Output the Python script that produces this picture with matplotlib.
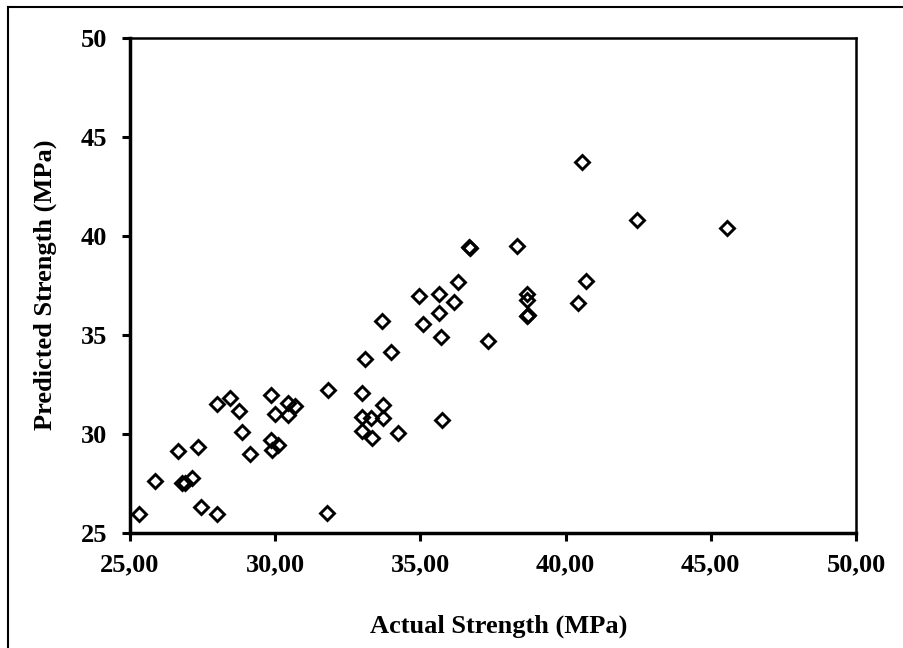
import matplotlib
matplotlib.use("Agg")
import matplotlib.pyplot as plt
from matplotlib.lines import Line2D

# ---- data ----
actual = [25.32, 25.86, 26.66, 27.33, 26.78, 26.89, 27.12, 27.45, 27.98, 27.98,
          28.44, 28.76, 28.87, 29.13, 29.86, 30.00, 29.86, 29.88, 30.10, 30.45,
          30.68, 30.45, 31.81, 31.77, 33.10, 33.00, 33.72, 32.99, 33.30, 33.72,
          32.99, 33.33, 34.22, 35.74, 34.00, 33.69, 35.10, 35.72, 37.34, 35.63,
          34.94, 35.65, 36.14, 36.28, 36.68, 36.72, 38.33, 38.67, 38.67, 38.67,
          38.70, 40.44, 40.70, 40.56, 42.45, 45.57]
predicted = [25.93, 27.62, 29.13, 29.32, 27.50, 27.50, 27.75, 26.32, 25.93, 31.50,
             31.79, 31.15, 30.10, 28.96, 31.96, 30.98, 29.69, 29.18, 29.44, 31.54,
             31.40, 30.95, 32.20, 25.98, 33.80, 32.05, 31.47, 30.83, 30.78, 30.78,
             30.16, 29.80, 30.02, 30.70, 34.15, 35.71, 35.55, 34.89, 34.67, 36.12,
             36.96, 37.06, 36.67, 37.65, 39.45, 39.40, 39.50, 37.08, 36.76, 35.93,
             36.00, 36.59, 37.72, 43.71, 40.78, 40.39]

x_ticks = [25, 30, 35, 40, 45, 50]
x_tick_labels = ["25,00", "30,00", "35,00", "40,00", "45,00", "50,00"]
y_ticks = [25, 30, 35, 40, 45, 50]
y_tick_labels = ["25", "30", "35", "40", "45", "50"]

x_title = "Actual Strength (MPa)"
y_title = "Predicted Strength (MPa)"

plt.rcParams['font.family'] = ['Liberation Serif', 'DejaVu Serif']
plt.rcParams['font.weight'] = 'bold'

W, H = 904, 648
fig = plt.figure(figsize=(W / 100, H / 100), dpi=100)
fig.patch.set_facecolor('white')

left, right, top, bottom = 130, 856, 37.7, 532.8
ax = fig.add_axes([left / W, 1 - bottom / H, (right - left) / W, (bottom - top) / H])

ax.plot(actual, predicted, linestyle='none', marker='D', markersize=7.3,
        markerfacecolor='none', markeredgecolor='black', markeredgewidth=2.1)

ax.set_xlim(25, 50)
ax.set_ylim(25, 50)
ax.set_xticks(x_ticks)
ax.set_xticklabels(x_tick_labels)
ax.set_yticks(y_ticks)
ax.set_yticklabels(y_tick_labels)

for lab in ax.get_xticklabels() + ax.get_yticklabels():
    lab.set_fontsize(19)
    lab.set_fontweight('bold')

ax.tick_params(axis='both', direction='out', length=5.5, width=2.2, color='black')
ax.tick_params(axis='y', pad=11)
ax.tick_params(axis='x', pad=9)

for side in ['left', 'bottom']:
    ax.spines[side].set_linewidth(2.5)
for side in ['top', 'right']:
    ax.spines[side].set_linewidth(1.8)
for s in ax.spines.values():
    s.set_color('black')

ax.set_xlabel(x_title, fontsize=19, fontweight='bold')
ax.xaxis.label.set_verticalalignment('center')
ax.xaxis.set_label_coords((499 - left) / (right - left), (bottom - 626) / (bottom - top))

ax.set_ylabel(y_title, fontsize=19, fontweight='bold')
ax.yaxis.label.set_verticalalignment('center')
ax.yaxis.set_label_coords((45 - left) / (right - left), 0.5)

# outer chart frame (left and top edges visible)
fig.add_artist(Line2D([8 / W, 8 / W], [0, 1 - 7.3 / H], transform=fig.transFigure,
                      color='black', linewidth=1.5))
fig.add_artist(Line2D([8 / W, 1], [1 - 7.3 / H, 1 - 7.3 / H], transform=fig.transFigure,
                      color='black', linewidth=1.5))

fig.savefig('out.png', dpi=100, facecolor='white')
